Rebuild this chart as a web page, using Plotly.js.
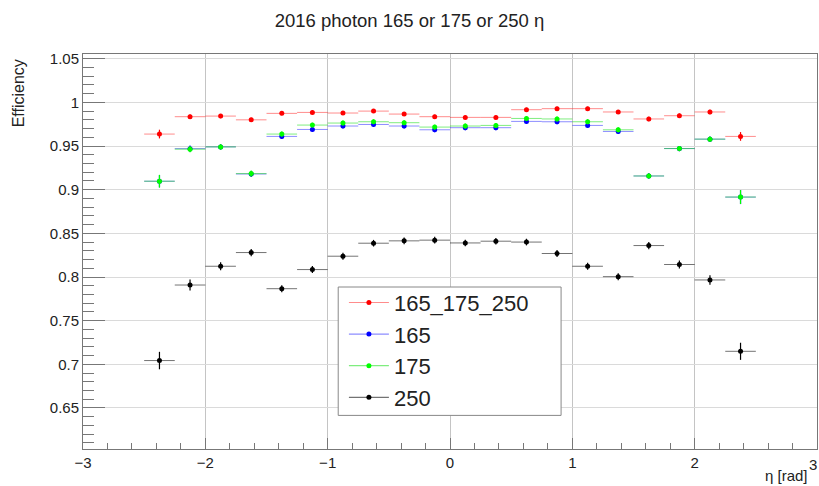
<!DOCTYPE html>
<html>
<head>
<meta charset="utf-8">
<script src="https://cdn.plot.ly/plotly-3.0.1.min.js"></script>
<style>html,body{margin:0;padding:0;background:#fff;}#chart{width:819px;height:486px;}</style>
</head>
<body>
<div id="chart"></div>
<script>
// ---- data ----
const etaBins = [-2.375, -2.125, -1.875, -1.625, -1.375, -1.125, -0.875, -0.625, -0.375, -0.125,
                  0.125,  0.375,  0.625,  0.875,  1.125,  1.375,  1.625,  1.875,  2.125,  2.375];
const binHalfWidth = [0.125, 0.125, 0.125, 0.125, 0.125, 0.125, 0.125, 0.125, 0.125, 0.125,
                      0.125, 0.125, 0.125, 0.125, 0.125, 0.125, 0.125, 0.125, 0.125, 0.125];

const eff165_175_250 = [0.9637, 0.9836, 0.9843, 0.9800, 0.9874, 0.9885, 0.9878, 0.9900, 0.9866, 0.9836,
                        0.9828, 0.9828, 0.9916, 0.9928, 0.9928, 0.9890, 0.9810, 0.9847, 0.9890, 0.9610];
const err165_175_250 = [0.0050, 0.0025, 0.0025, 0.0025, 0.0022, 0.0022, 0.0022, 0.0022, 0.0022, 0.0022,
                        0.0022, 0.0022, 0.0022, 0.0022, 0.0022, 0.0022, 0.0025, 0.0025, 0.0025, 0.0050];

const eff165 = [0.9097, 0.9470, 0.9490, 0.9180, 0.9610, 0.9690, 0.9729, 0.9747, 0.9729, 0.9686,
                0.9710, 0.9710, 0.9782, 0.9778, 0.9736, 0.9667, 0.9157, 0.9471, 0.9579, 0.8915];
const err165 = [0.0070, 0.0035, 0.0030, 0.0035, 0.0030, 0.0028, 0.0028, 0.0028, 0.0028, 0.0028,
                0.0028, 0.0028, 0.0028, 0.0028, 0.0028, 0.0030, 0.0030, 0.0030, 0.0030, 0.0080];

const eff175 = [0.9097, 0.9464, 0.9490, 0.9184, 0.9637, 0.9740, 0.9763, 0.9778, 0.9767, 0.9717,
                0.9729, 0.9736, 0.9816, 0.9810, 0.9778, 0.9686, 0.9157, 0.9471, 0.9579, 0.8916];
const err175 = [0.0073, 0.0035, 0.0030, 0.0035, 0.0030, 0.0028, 0.0028, 0.0028, 0.0028, 0.0028,
                0.0028, 0.0028, 0.0028, 0.0028, 0.0028, 0.0030, 0.0030, 0.0030, 0.0030, 0.0080];

const eff250 = [0.7043, 0.7908, 0.8123, 0.8280, 0.7866, 0.8085, 0.8238, 0.8387, 0.8414, 0.8422,
                0.8390, 0.8410, 0.8400, 0.8269, 0.8123, 0.8004, 0.8360, 0.8143, 0.7966, 0.7149];
const err250 = [0.0100, 0.0063, 0.0045, 0.0042, 0.0040, 0.0040, 0.0040, 0.0038, 0.0038, 0.0038,
                0.0038, 0.0038, 0.0038, 0.0040, 0.0040, 0.0040, 0.0042, 0.0045, 0.0055, 0.0098];

const seriesNames = ['165_175_250', '165', '175', '250'];
const xTickVals = [-3, -2, -1, 0, 1, 2];
const xLastTick = 3;
const titleText = '2016 photon 165 or 175 or 250 η';
const xTitleText = 'η [rad]';
const yTitleText = 'Efficiency';

// ---- styling ----
const FONT = '"Liberation Sans", Arial, Helvetica, sans-serif';
const colors = ['#ff0000', '#0000ff', '#00ff00', '#000000'];
const lightColors = ['rgba(255,0,0,0.45)', 'rgba(0,0,255,0.45)', 'rgba(0,220,0,0.5)', 'rgba(0,0,0,0.55)'];
const effs = [eff165_175_250, eff165, eff175, eff250];
const errs = [err165_175_250, err165, err175, err250];

const traces = [];
effs.forEach((vals, i) => {
  traces.push({
    type: 'scatter', mode: 'markers', x: etaBins, y: vals, showlegend: false,
    marker: {color: colors[i], size: 5},
    error_x: {type: 'data', array: binHalfWidth, symmetric: true, color: lightColors[i], thickness: 1, width: 0},
    error_y: {type: 'data', array: errs[i], symmetric: true, color: colors[i], thickness: 1.2, width: 0},
    hoverinfo: 'x+y'
  });
});
// legend entries (line + dot symbol as in the reference)
seriesNames.forEach((nm, i) => {
  traces.push({
    type: 'scatter', mode: 'lines+markers', x: [null], y: [null], name: nm,
    line: {color: lightColors[i], width: 1.2}, marker: {color: colors[i], size: 5}
  });
});

const plotL = 83.3, plotR = 816.7, plotT = 54.3, plotB = 449.3;
const pw = plotR - plotL, ph = plotB - plotT;
const px = v => (v - plotL) / pw;
const py = v => (plotB - v) / ph;

const layout = {
  width: 819, height: 486,
  margin: {l: plotL, r: 819 - plotR, t: plotT, b: 486 - plotB, pad: 0},
  paper_bgcolor: '#ffffff', plot_bgcolor: '#ffffff',
  font: {family: FONT, color: '#222', size: 15},
  title: {text: titleText, x: 0.5, xref: 'container', xanchor: 'center', y: 1 - 21 / 486, yref: 'container', yanchor: 'middle',
          font: {family: FONT, size: 18.5, color: '#222'}},
  xaxis: {
    range: [-3, 3], tickvals: xTickVals,
    ticks: 'inside', ticklen: 11, tickcolor: '#777', tickwidth: 1,
    minor: {dtick: 0.2, ticks: 'inside', ticklen: 6, tickcolor: '#777', showgrid: false},
    showgrid: true, gridcolor: '#c4c4c4', gridwidth: 1, zeroline: false,
    showline: true, mirror: true, linecolor: '#777', linewidth: 1,
    tickfont: {family: FONT, size: 15, color: '#222'}
  },
  yaxis: {
    range: [0.603, 1.0554], tick0: 0.6, dtick: 0.05,
    ticks: 'inside', ticklen: 22, tickcolor: '#777', tickwidth: 1,
    minor: {dtick: 0.01, ticks: 'inside', ticklen: 11, tickcolor: '#777', showgrid: false},
    showgrid: true, gridcolor: '#dadada', gridwidth: 1, zeroline: false,
    showline: true, mirror: true, linecolor: '#777', linewidth: 1,
    tickfont: {family: FONT, size: 15, color: '#222'}
  },
  showlegend: true,
  legend: {
    x: px(344), xanchor: 'left', y: py(282), yanchor: 'top',
    bgcolor: 'rgba(0,0,0,0)', borderwidth: 0, itemwidth: 40,
    font: {family: FONT, size: 22, color: '#222'},
    itemclick: false, itemdoubleclick: false, tracegroupgap: 0
  },
  shapes: [{
    type: 'rect', xref: 'paper', yref: 'paper', layer: 'above',
    x0: px(338.3), x1: px(561), y0: py(415.7), y1: py(287.3),
    line: {color: '#888', width: 1}, fillcolor: '#ffffff'
  }],
  annotations: [
    {text: yTitleText, xref: 'paper', yref: 'paper', x: px(19), y: py(94), xanchor: 'center', yanchor: 'middle',
     textangle: -90, showarrow: false, font: {family: FONT, size: 16, color: '#222'}},
    {text: xTitleText, xref: 'paper', yref: 'paper', x: px(810), y: py(476), xanchor: 'right', yanchor: 'middle',
     showarrow: false, font: {family: FONT, size: 15, color: '#222'}},
    {text: String(xLastTick), xref: 'x', yref: 'paper', x: xLastTick, y: py(465), xanchor: 'right', yanchor: 'middle',
     xshift: 1.5, showarrow: false, font: {family: FONT, size: 15, color: '#222'}}
  ]
};

Plotly.newPlot('chart', traces, layout, {staticPlot: true, displayModeBar: false});
</script>
</body>
</html>
